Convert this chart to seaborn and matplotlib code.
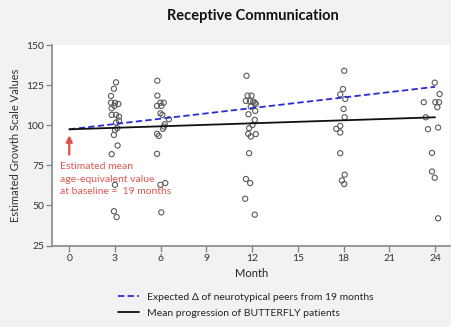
import matplotlib
matplotlib.use("Agg")
import matplotlib.pyplot as plt
import seaborn as sns
import pandas as pd

# ---- data ----
month_3_x = [3.07, 2.93, 2.74, 2.74, 3.0, 3.22, 2.96, 2.78, 2.78, 3.07, 3.26, 3.26, 3.07, 3.15, 3.0, 2.93, 3.17, 2.78, 3.0, 2.93, 3.11]
month_3_y = [126.8, 122.8, 118.3, 114.1, 114.0, 113.3, 112.1, 110.6, 106.5, 106.5, 105.4, 102.9, 101.7, 98.2, 97.1, 94.0, 87.4, 82.0, 62.9, 46.4, 42.8]
month_6_x = [5.78, 5.78, 5.98, 6.2, 5.76, 6.04, 5.98, 6.11, 6.54, 6.26, 6.22, 6.15, 5.76, 5.87, 5.76, 5.98, 6.3, 6.04]
month_6_y = [127.8, 118.5, 114.1, 114.1, 112.1, 112.1, 107.5, 106.5, 103.8, 100.7, 99.2, 97.8, 94.7, 93.4, 82.2, 62.9, 64.0, 45.7]
month_12_x = [11.63, 11.7, 11.96, 11.59, 11.85, 12.07, 12.17, 12.24, 11.91, 12.2, 11.76, 12.17, 12.02, 11.8, 11.74, 11.91, 12.24, 11.8, 11.59, 11.87, 11.54, 12.17]
month_12_y = [130.9, 118.5, 118.5, 115.2, 115.2, 114.8, 114.1, 113.3, 111.6, 109.0, 106.9, 103.4, 100.2, 98.2, 94.7, 93.0, 94.5, 82.6, 66.5, 64.0, 54.2, 44.3]
month_18_x = [18.04, 17.96, 17.78, 18.11, 18.0, 18.07, 17.78, 17.52, 17.78, 17.78, 18.07, 17.89, 18.04]
month_18_y = [134.0, 122.6, 119.3, 116.4, 110.2, 105.0, 99.6, 97.8, 95.5, 82.6, 69.2, 65.6, 63.4]
month_24_x = [23.98, 24.3, 23.26, 24.02, 24.26, 24.15, 23.39, 23.54, 24.2, 23.8, 23.8, 23.98, 24.2]
month_24_y = [126.6, 119.5, 114.4, 114.4, 114.4, 111.3, 105.0, 97.6, 98.6, 82.8, 71.2, 67.3, 42.0]

line_months = [0, 24]
expected_peers = [97.5, 124.0]
mean_butterfly = [97.5, 105.0]

x_ticks = [0, 3, 6, 9, 12, 15, 18, 21, 24]
y_ticks = [25, 50, 75, 100, 125, 150]

title = "Receptive Communication"
xlabel = "Month"
ylabel = "Estimated Growth Scale Values"
legend_labels = ["Expected \u0394 of neurotypical peers from 19 months",
                 "Mean progression of BUTTERFLY patients"]
annotation = "Estimated mean\nage-equivalent value\nat baseline =  19 months"

# ---- build tables ----
pts = pd.DataFrame({
    "Month": month_3_x + month_6_x + month_12_x + month_18_x + month_24_x,
    "Value": month_3_y + month_6_y + month_12_y + month_18_y + month_24_y,
})
lines = pd.DataFrame({
    "Month": line_months + line_months,
    "Value": expected_peers + mean_butterfly,
    "Series": [legend_labels[0]] * 2 + [legend_labels[1]] * 2,
})

sns.set_theme(style="white")
plt.rcParams["font.family"] = ["Lato", "DejaVu Sans"]

fig = plt.figure(figsize=(4.51, 3.27), dpi=100, facecolor="#f2f2f2")
ax = fig.add_axes([0.1164, 0.249, 0.882, 0.613])
ax.set_facecolor("white")

sns.scatterplot(data=pts, x="Month", y="Value", ax=ax, marker="o", s=14,
                facecolors="none", edgecolor="#5a5a5a", linewidth=0.8,
                legend=False, zorder=3)

sns.lineplot(data=lines, x="Month", y="Value", hue="Series", style="Series",
             palette={legend_labels[0]: "#2b2bd6", legend_labels[1]: "#111111"},
             dashes={legend_labels[0]: (3.5, 1.8), legend_labels[1]: ""},
             linewidth=1.3, ax=ax, zorder=4)

ax.set_xlim(-1.1, 25.0)
ax.set_ylim(25, 150)
ax.set_xticks(x_ticks)
ax.set_yticks(y_ticks)
ax.tick_params(axis="both", which="both", direction="out", length=4, width=1,
               color="#888888", labelsize=7.5, labelcolor="#333333", pad=2,
               left=True, bottom=True)
for side in ["top", "right"]:
    ax.spines[side].set_visible(False)
for side in ["left", "bottom"]:
    ax.spines[side].set_color("#888888")
    ax.spines[side].set_linewidth(1.2)

ax.set_xlabel(xlabel, fontsize=8, color="#222222", labelpad=4)
ax.set_ylabel(ylabel, fontsize=8, color="#333333", labelpad=4)

fig.text(0.561, 0.952, title, ha="center", va="center", fontsize=10.5,
         fontweight="bold", color="#111111")

# arrow and annotation
ax.annotate("", xy=(0, 95.5), xytext=(0, 80),
            arrowprops=dict(arrowstyle="-|>", color="#e0504a", lw=1.6,
                            mutation_scale=9))
ax.text(-0.62, 77, annotation, ha="left", va="top", fontsize=7.5,
        color="#e05550", linespacing=1.5)

handles, labels = ax.get_legend_handles_labels()
ax.legend(handles=handles, labels=labels, loc="upper left",
          bbox_to_anchor=(0.155, -0.215), frameon=False, fontsize=7.5,
          handlelength=2.0, handletextpad=0.8, labelspacing=0.6,
          borderaxespad=0)

fig.savefig("out.png", dpi=100, facecolor=fig.get_facecolor())
